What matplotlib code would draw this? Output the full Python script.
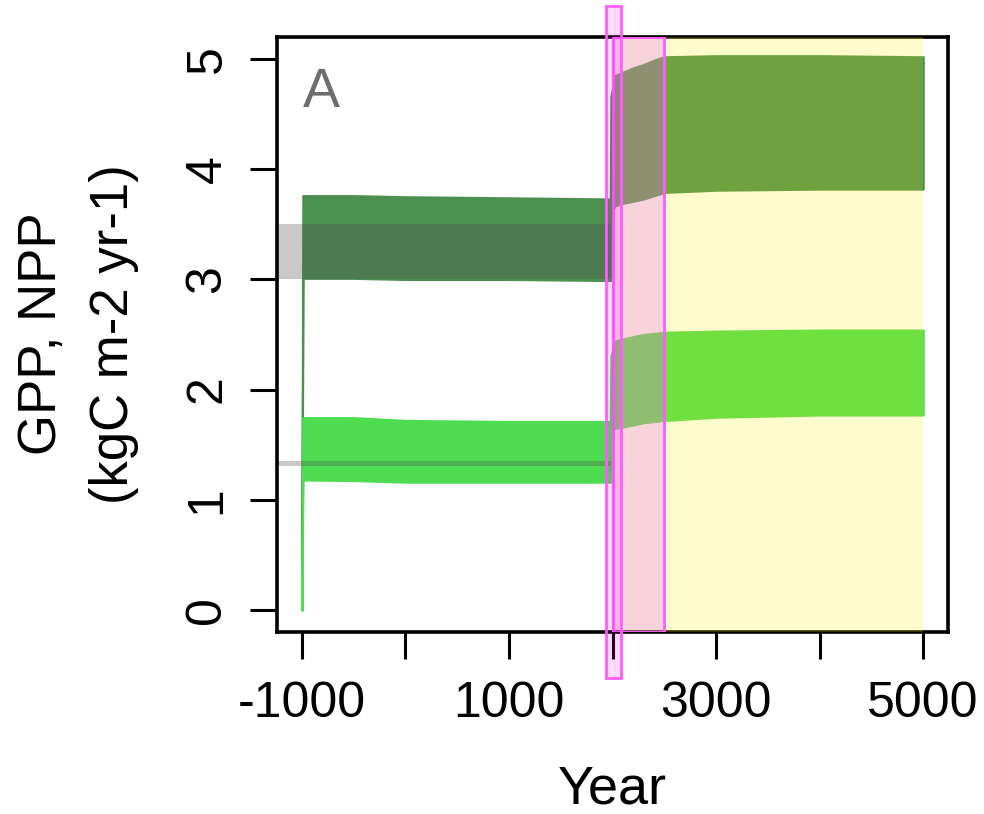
import matplotlib
matplotlib.use("Agg")
import matplotlib.pyplot as plt
from matplotlib.patches import Rectangle

plt.rcParams['font.family'] = ['Liberation Sans', 'DejaVu Sans']

# Simulated productivity envelopes (min / max of the annual cycle), kgC m-2 yr-1
years = [-1000, -990, -500, 0, 1000, 1980, 1985, 2025, 2100, 2200, 2300, 2400, 2500, 3000, 4000, 5000]
gpp_hi = [0.0, 3.76, 3.76, 3.75, 3.74, 3.73, 4.66, 4.85, 4.88, 4.92, 4.95, 4.99, 5.02, 5.03, 5.03, 5.02]
gpp_lo = [0.0, 3.01, 3.01, 3.00, 3.00, 2.99, 3.60, 3.67, 3.69, 3.71, 3.73, 3.76, 3.79, 3.81, 3.82, 3.82]
npp_hi = [0.0, 1.745, 1.745, 1.72, 1.71, 1.71, 2.30, 2.44, 2.46, 2.48, 2.50, 2.51, 2.52, 2.53, 2.54, 2.54]
npp_lo = [0.0, 1.18, 1.175, 1.16, 1.16, 1.16, 1.62, 1.65, 1.66, 1.68, 1.70, 1.71, 1.72, 1.75, 1.77, 1.77]

# Observed ranges
obs_years = [-1300, 1985]
gpp_obs = [3.0, 3.5]
npp_obs = [1.31, 1.355]

# Periods
present_window = [1940, 2080]
transient_period = [2005, 2500]
future_period = [2500, 5000]

xticks = [-1000, 0, 1000, 2000, 3000, 4000, 5000]
xticklabels = ['-1000', '', '1000', '', '3000', '', '5000']
yticks = [0, 1, 2, 3, 4, 5]

fig = plt.figure(figsize=(9.84, 8.14), dpi=100)
ax = fig.add_axes([277 / 984, 1 - 632 / 814, (948 - 277) / 984, (632 - 37) / 814])
ax.set_xlim(-1240, 5240)
ax.set_ylim(-0.2, 5.2)

gpp_col = '#4B904F'
npp_col = '#4EDC50'
ax.fill_between(years, gpp_lo, gpp_hi, color=gpp_col, lw=1.6, zorder=2)
ax.fill_between(years, npp_lo, npp_hi, color=npp_col, lw=1.6, zorder=3)

# observation bands
ax.fill_between(obs_years, [gpp_obs[0]] * 2, [gpp_obs[1]] * 2, color='#4D4D4D', alpha=0.3, lw=0, zorder=4)
ax.fill_between(obs_years, [npp_obs[0]] * 2, [npp_obs[1]] * 2, color='#4D4D4D', alpha=0.3, lw=0, zorder=4)

# future and transient periods
ylo, yhi = ax.get_ylim()
ax.add_patch(Rectangle((future_period[0], ylo), future_period[1] - future_period[0], yhi - ylo,
                       facecolor=(0.98, 0.93, 0.0, 0.2), edgecolor='none', zorder=5))
ax.add_patch(Rectangle((transient_period[0], ylo), transient_period[1] - transient_period[0], yhi - ylo,
                       facecolor=(242 / 255, 147 / 255, 167 / 255, 0.4), edgecolor='#FF5CFF', lw=2.0, zorder=6))
ax.add_patch(Rectangle((present_window[0], -0.62), present_window[1] - present_window[0], 5.48 + 0.62,
                       facecolor=(1, 0, 1, 0.15), edgecolor='#FF5CFF', lw=2.0, zorder=7, clip_on=False))

for s in ax.spines.values():
    s.set_linewidth(2.6)
    s.set_zorder(4.5)

ax.set_xticks(xticks)
ax.set_xticklabels(xticklabels)
ax.set_yticks(yticks)
ax.set_yticklabels([str(v) for v in yticks])
ax.tick_params(axis='both', length=19.5, width=2.2, labelsize=36, direction='out')
ax.tick_params(axis='x', pad=16)
ax.tick_params(axis='y', pad=14)
for lab in ax.get_yticklabels():
    lab.set_rotation(90)
    lab.set_va('center')

fig.text(42 / 984, 1 - 334 / 814, 'GPP, NPP', rotation=90, ha='center', va='center', fontsize=38)
fig.text(114 / 984, 1 - 334 / 814, '(kgC m-2 yr-1)', rotation=90, ha='center', va='center', fontsize=38)
fig.text(612.5 / 984, 1 - 804 / 814, 'Year', ha='center', va='baseline', fontsize=39)
fig.text(303 / 984, 1 - 107 / 814, 'A', ha='left', va='baseline', fontsize=40, color='#6E6E6E')

fig.savefig('out.png', dpi=100)
